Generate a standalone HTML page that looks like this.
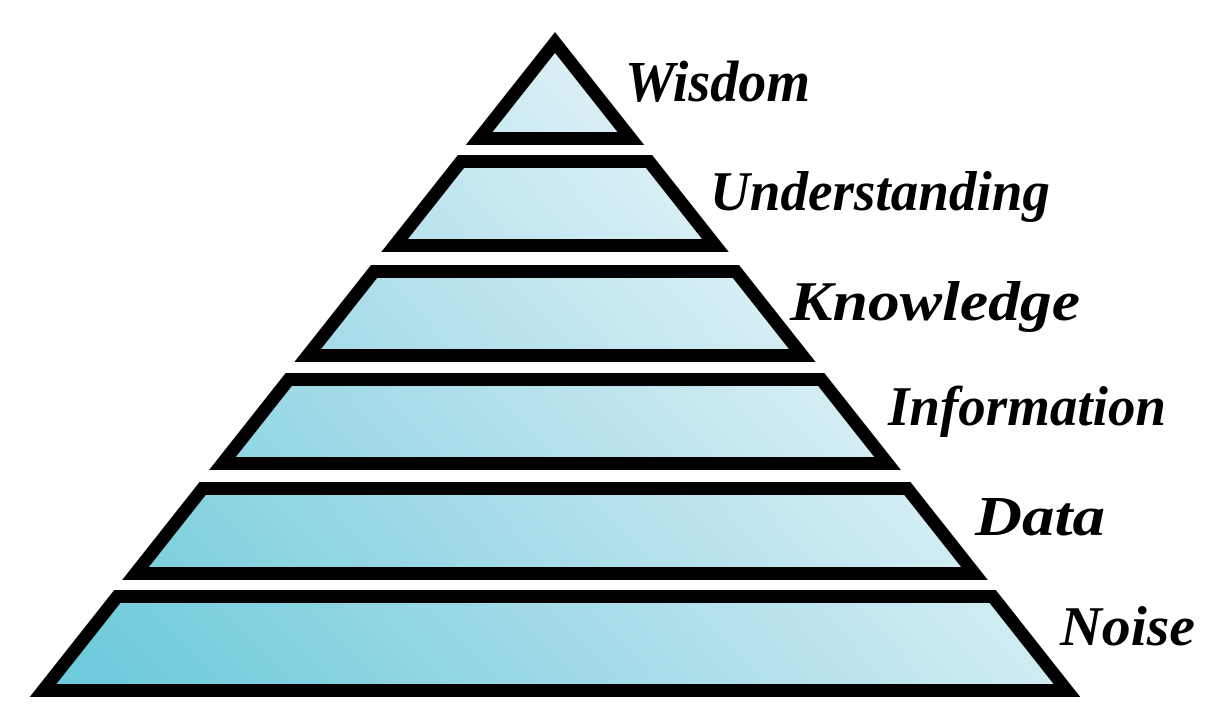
<!DOCTYPE html>
<html><head><meta charset="utf-8"><style>
html,body{margin:0;padding:0;background:#fff;width:1220px;height:721px;overflow:hidden}
text{font-family:"Liberation Serif",serif;font-style:italic;font-weight:bold;fill:#000}
</style></head><body>
<svg width="1220" height="721" viewBox="0 0 1220 721" xmlns="http://www.w3.org/2000/svg">
<defs>
<linearGradient id="g" gradientUnits="userSpaceOnUse" x1="150" y1="720" x2="850" y2="60">
<stop offset="0" stop-color="#6ecbdb"/>
<stop offset="0.5" stop-color="#b3e0eb"/>
<stop offset="1" stop-color="#f6fbfd"/>
</linearGradient>
</defs>
<g id="layers" fill="url(#g)" stroke="#000" stroke-width="13" stroke-linejoin="miter" stroke-miterlimit="10"></g>
<text x="625" y="101" font-size="58" textLength="185" lengthAdjust="spacingAndGlyphs">Wisdom</text>
<text x="710" y="210" font-size="56" textLength="340" lengthAdjust="spacingAndGlyphs">Understanding</text>
<text x="790" y="320" font-size="56" textLength="290" lengthAdjust="spacingAndGlyphs">Knowledge</text>
<text x="888" y="425" font-size="56" textLength="278" lengthAdjust="spacingAndGlyphs">Information</text>
<text x="975" y="535" font-size="56" textLength="130" lengthAdjust="spacingAndGlyphs">Data</text>
<text x="1060" y="645" font-size="56" textLength="135" lengthAdjust="spacingAndGlyphs">Noise</text>
</svg>
<script>
(function(){
var g=document.getElementById('layers');
var k=0.79, ax=555, ay=32, h=6.5, dx=6.5*Math.sqrt(1+k*k);
function L(y){return ax-k*(y-ay)+dx;}
function R(y){return ax+k*(y-ay)-dx;}
var bands=[[155,252],[265,362],[373,470],[482,580],[590,697]];
var ns='http://www.w3.org/2000/svg';
var tb=145-h;
var p=document.createElementNS(ns,'polygon');
var apexY=ay+dx/k;
p.setAttribute('points',ax+','+(apexY)+' '+L(tb)+','+tb+' '+R(tb)+','+tb);
g.appendChild(p);
bands.forEach(function(b){
 var t=b[0]+h, bt=b[1]-h;
 var q=document.createElementNS(ns,'polygon');
 q.setAttribute('points',L(t)+','+t+' '+R(t)+','+t+' '+R(bt)+','+bt+' '+L(bt)+','+bt);
 g.appendChild(q);
});
})();
</script>
</body></html>
